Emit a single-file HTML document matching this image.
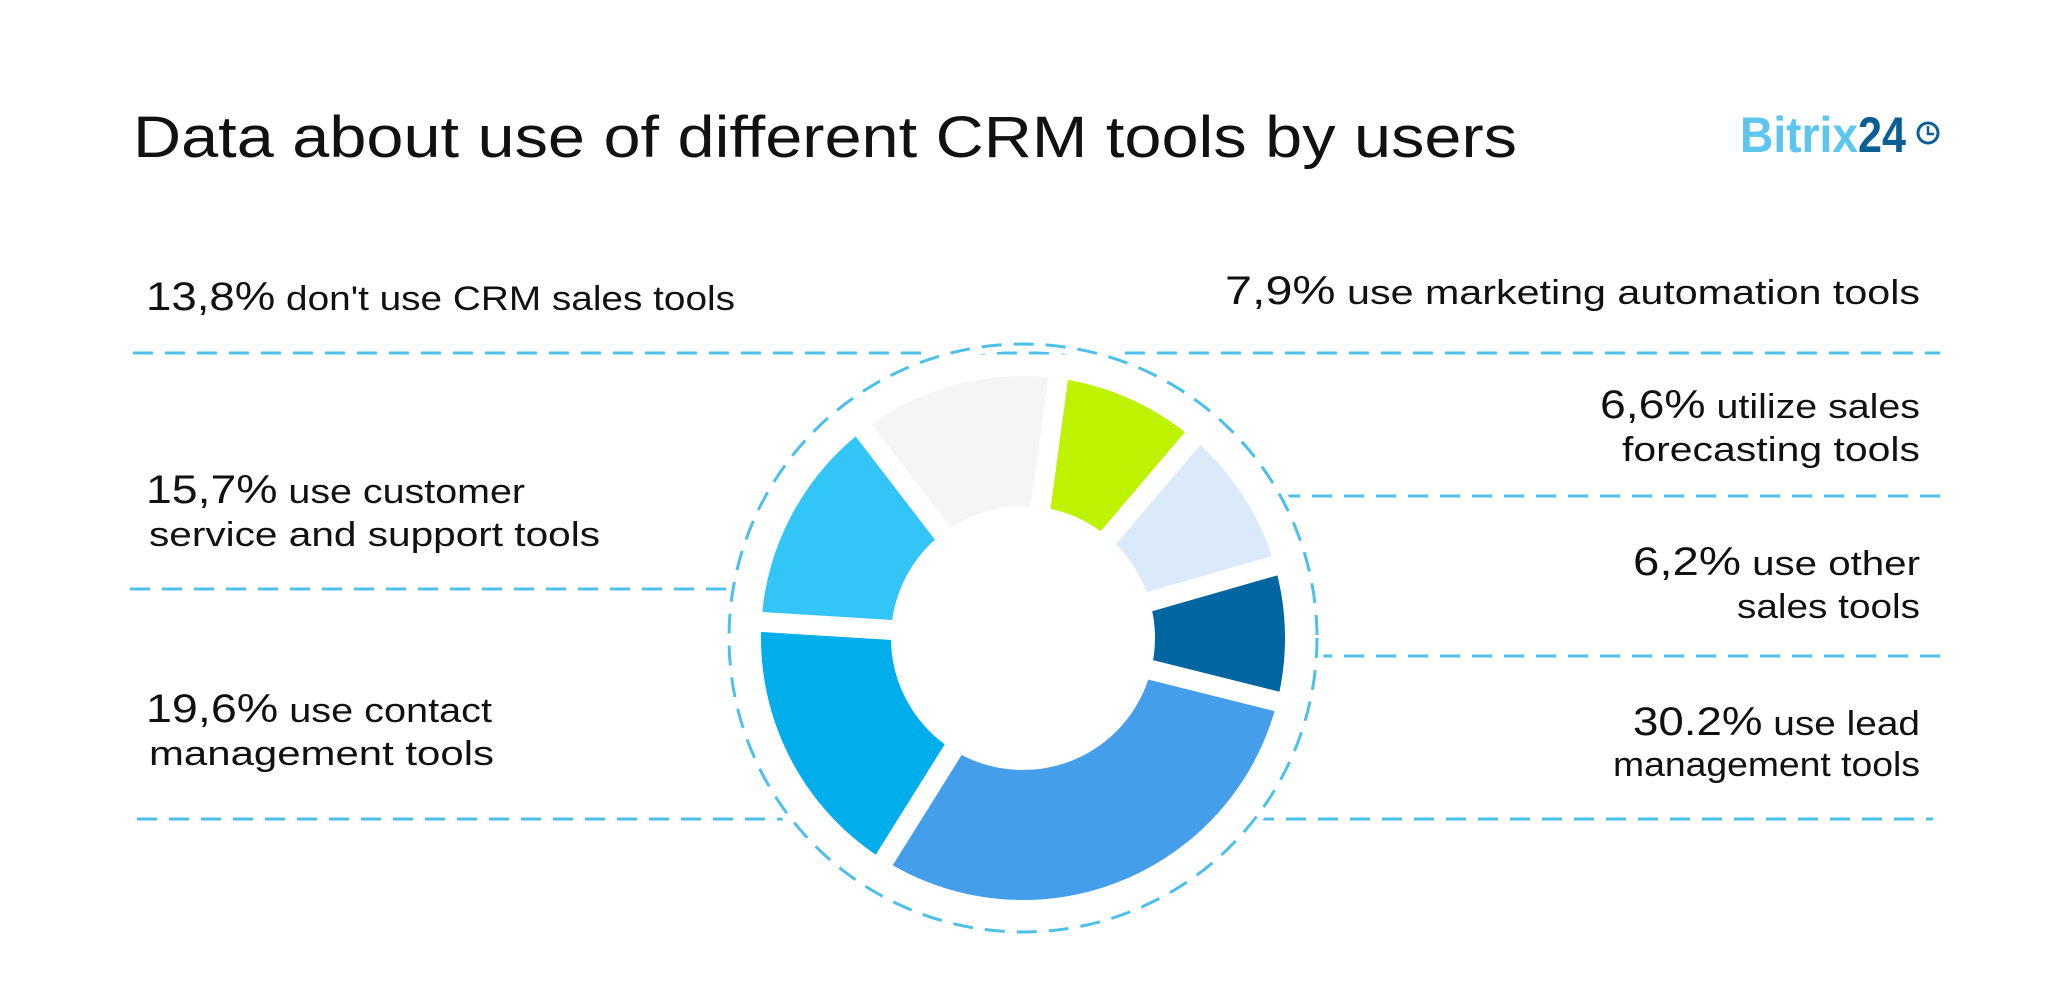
<!DOCTYPE html>
<html><head><meta charset="utf-8"><style>
html,body{margin:0;padding:0;background:#fff;}
svg{display:block;}
text{font-family:"Liberation Sans",sans-serif;fill:#111;}
</style></head><body>
<svg width="2048" height="1000" viewBox="0 0 2048 1000" xmlns="http://www.w3.org/2000/svg">
<rect width="2048" height="1000" fill="#fff"/>
<text x="133" y="157" font-size="58" textLength="1384" lengthAdjust="spacingAndGlyphs">Data about use of different CRM tools by users</text>
<text x="1740" y="152" font-size="50" font-weight="bold" style="fill:#5cc6f0" textLength="118" lengthAdjust="spacingAndGlyphs">Bitrix</text>
<text x="1858" y="152" font-size="50" font-weight="bold" style="fill:#0a5f93" textLength="48" lengthAdjust="spacingAndGlyphs">24</text>
<circle cx="1928" cy="133" r="10" fill="none" stroke="#0a5f93" stroke-width="3"/>
<path d="M1928 126 V134 H1934" fill="none" stroke="#0a5f93" stroke-width="2.5"/>

<g stroke="#4cc0ea" stroke-width="3" stroke-dasharray="20 12" fill="none">
<line x1="133" y1="353" x2="1940" y2="353"/>
<line x1="130" y1="589" x2="731" y2="589"/>
<line x1="137" y1="819" x2="784" y2="819"/>
<line x1="1280" y1="496" x2="1940" y2="496"/>
<line x1="1312" y1="656" x2="1940" y2="656"/>
<line x1="1254" y1="819" x2="1933" y2="819"/>
</g>
<circle cx="1023" cy="638" r="294" fill="none" stroke="#fff" stroke-width="14"/>
<circle cx="1023" cy="638" r="294" fill="none" stroke="#4cc0ea" stroke-width="3" stroke-dasharray="20 12"/>

<g transform="rotate(-90 1023 638)" fill="none" stroke-width="130">
<circle cx="1023" cy="638" r="197" pathLength="360" stroke="#f5f5f5" stroke-dasharray="45.2 314.8" stroke-dashoffset="-322.5"/>
<circle cx="1023" cy="638" r="197" pathLength="360" stroke="#bef200" stroke-dasharray="32.7 327.3" stroke-dashoffset="-7.7"/>
<circle cx="1023" cy="638" r="197" pathLength="360" stroke="#dbeafa" stroke-dasharray="33.6 326.4" stroke-dashoffset="-40.4"/>
<circle cx="1023" cy="638" r="197" pathLength="360" stroke="#0066a1" stroke-dasharray="30 330" stroke-dashoffset="-74"/>
<circle cx="1023" cy="638" r="197" pathLength="360" stroke="#449ee9" stroke-dasharray="108 252" stroke-dashoffset="-104"/>
<circle cx="1023" cy="638" r="197" pathLength="360" stroke="#00aeeb" stroke-dasharray="61.5 298.5" stroke-dashoffset="-212"/>
<circle cx="1023" cy="638" r="197" pathLength="360" stroke="#33c5f5" stroke-dasharray="49 311" stroke-dashoffset="-273.5"/>
</g>
<g stroke="#fff" stroke-width="20">
<line x1="1023" y1="638" x2="1060.5" y2="360.5"/>
<line x1="1023" y1="638" x2="1204.4" y2="424.6"/>
<line x1="1023" y1="638" x2="1292.1" y2="560.7"/>
<line x1="1023" y1="638" x2="1294.6" y2="705.8"/>
<line x1="1023" y1="638" x2="874.6" y2="875.4"/>
<line x1="1023" y1="638" x2="743.6" y2="620.9"/>
<line x1="1023" y1="638" x2="852.5" y2="415.9"/>
</g>

<g font-size="34">
<text x="146" y="310" textLength="589" lengthAdjust="spacingAndGlyphs"><tspan font-size="40">13,8%</tspan> don't use CRM sales tools</text>
<text x="146" y="503" textLength="379" lengthAdjust="spacingAndGlyphs"><tspan font-size="40">15,7%</tspan> use customer</text>
<text x="149" y="546" textLength="451" lengthAdjust="spacingAndGlyphs">service and support tools</text>
<text x="146" y="722" textLength="346" lengthAdjust="spacingAndGlyphs"><tspan font-size="40">19,6%</tspan> use contact</text>
<text x="149" y="765" textLength="345" lengthAdjust="spacingAndGlyphs">management tools</text>
<g text-anchor="end">
<text x="1920" y="304" textLength="695" lengthAdjust="spacingAndGlyphs"><tspan font-size="40">7,9%</tspan> use marketing automation tools</text>
<text x="1920" y="418" textLength="320" lengthAdjust="spacingAndGlyphs"><tspan font-size="40">6,6%</tspan> utilize sales</text>
<text x="1920" y="461" textLength="298" lengthAdjust="spacingAndGlyphs">forecasting tools</text>
<text x="1920" y="575" textLength="287" lengthAdjust="spacingAndGlyphs"><tspan font-size="40">6,2%</tspan> use other</text>
<text x="1920" y="618" textLength="183" lengthAdjust="spacingAndGlyphs">sales tools</text>
<text x="1920" y="735" textLength="287" lengthAdjust="spacingAndGlyphs"><tspan font-size="40">30.2%</tspan>  use lead</text>
<text x="1920" y="776" textLength="307" lengthAdjust="spacingAndGlyphs">management tools</text>
</g>
</g>
</svg>
</body></html>
